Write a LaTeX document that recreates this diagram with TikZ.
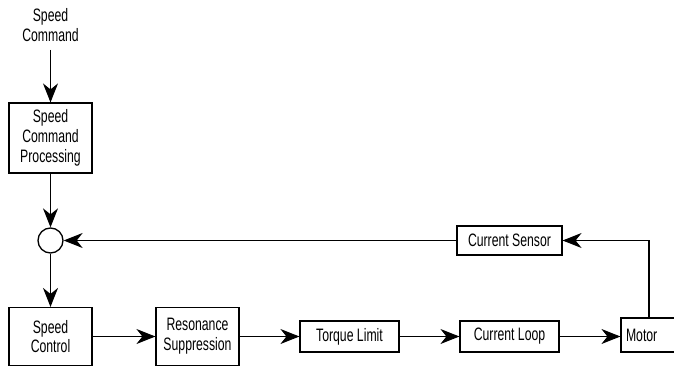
\documentclass[tikz,border=0pt]{standalone}
\usepackage{fontspec}
\setmainfont{Liberation Sans}[FakeStretch=0.68]
\usetikzlibrary{arrows.meta}
\begin{document}
\begin{tikzpicture}[x=1pt,y=-1pt,
  line width=1.15pt,
  every node/.style={font=\fontsize{18}{19.8}\selectfont, align=center, inner sep=0pt},
  blockbox/.style={draw, rectangle, line width=1.15pt},
  flow/.style={-{Stealth[length=19pt,width=15pt,inset=6pt]}},
  sumcircle/.style={draw, circle, minimum size=25pt, line width=1.3pt}]
  \useasboundingbox (0,0) rectangle (674,366);
  \begin{scope}
  \clip (0,0) rectangle (674,366);
  % forward path
  \node (cmd) at (50.5,25) {Speed\\Command};
  \node[blockbox, minimum width=83pt, minimum height=70pt] (scp) at (50.5,138) {Speed\\Command\\Processing};
  \node[sumcircle] (sum) at (50.5,240.5) {};
  \node[blockbox, minimum width=83pt, minimum height=58pt] (sc) at (50.5,336.5) {Speed\\Control};
  \node[blockbox, minimum width=83pt, minimum height=58pt] (rs) at (197.5,336.5) {Resonance\\Suppression};
  \node[blockbox, minimum width=99pt, minimum height=31pt] (tl) at (349.5,336.5) {Torque Limit};
  \node[blockbox, minimum width=99pt, minimum height=31pt] (cl) at (509.5,336.5) {Current Loop};
  \node[blockbox, minimum width=56pt, minimum height=34pt, text width=48pt, align=left] (motor) at (649,335) {\hspace*{1pt}Motor};
  % feedback path
  \node[blockbox, minimum width=105pt, minimum height=29pt] (cs) at (509.5,240.5) {Current Sensor};
  \coordinate (corner) at (motor.north |- cs.east);

  \draw[flow] (cmd.south |- 0,50) -- (scp.north);
  \draw[flow] (scp.south) -- (sum.north);
  \draw[flow] (sum.south) -- (sc.north);
  \draw[flow] (sc.east) -- (rs.west);
  \draw[flow] (rs.east) -- (tl.west);
  \draw[flow] (tl.east) -- (cl.west);
  \draw[flow] (cl.east) -- (motor.west |- cl.east);
  \draw[flow] (motor.north) -- (corner) -- (cs.east);
  \draw[flow] (cs.west) -- (sum.east);
  \end{scope}
\end{tikzpicture}
\end{document}
